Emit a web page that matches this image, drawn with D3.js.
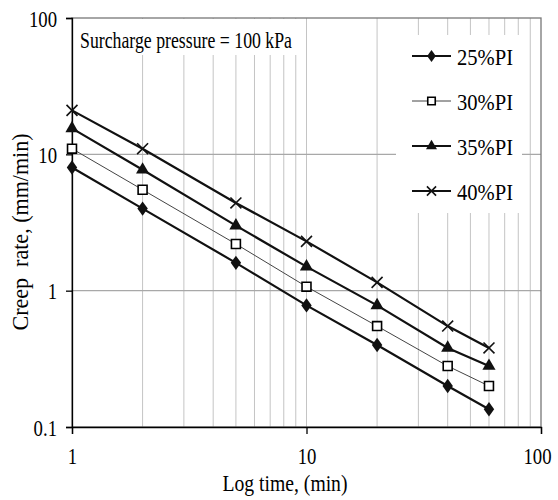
<!doctype html>
<meta charset="utf-8" />
<style>
    body { margin: 0; background: #fff; }
</style>
<svg></svg>

<script src="https://cdn.jsdelivr.net/npm/d3@7"></script>

<script>
    // data
    var times = [1, 2, 5, 10, 20, 40, 60];
    var pi25 = [8, 4, 1.6, 0.78, 0.4, 0.2, 0.135];
    var pi30 = [11, 5.5, 2.2, 1.07, 0.55, 0.28, 0.2];
    var pi35 = [15.5, 7.7, 3.0, 1.5, 0.78, 0.38, 0.28];
    var pi40 = [21, 11, 4.4, 2.3, 1.15, 0.55, 0.38];
    var seriesNames = ['25%PI', '30%PI', '35%PI', '40%PI'];
    var xTicks = [1, 10, 100];
    var yTicks = [0.1, 1, 10, 100];

    var SERIF = '"Liberation Serif", "Times New Roman", serif';
    var width = 558, height = 500;
    var pLeft = 72, pRight = 541, pTop = 18, pBottom = 427;

    var svg = d3.select('svg')
        .attr('width', width)
        .attr('height', height)

    // the reference text is tall and narrow, so squeeze it sideways
    function squeeze(sel, k) {
        sel.each(function () {
            var w = this.getComputedTextLength();
            d3.select(this).attr('textLength', w * k).attr('lengthAdjust', 'spacingAndGlyphs');
        });
    }
    function fitTo(sel, w) {
        sel.attr('textLength', w).attr('lengthAdjust', 'spacingAndGlyphs');
    }

    var x = d3.scaleLog().domain([1, 100]).range([pLeft, pRight]);
    var y = d3.scaleLog().domain([0.1, 100]).range([pBottom, pTop]);

    // vertical grid at every minor step
    var xGrid = [];
    [1, 10].forEach(function (d) {
        for (var k = 1; k <= 9; k++) xGrid.push(d * k);
    });
    svg.append('g').selectAll('line')
        .data(xGrid.filter(function (d) { return d > 1; }))
        .enter().append('line')
        .attr('x1', function (d) { return x(d); })
        .attr('x2', function (d) { return x(d); })
        .attr('y1', pTop).attr('y2', pBottom)
        .style('stroke', '#c4c4c4').style('stroke-width', 1);

    svg.append('g').selectAll('line')
        .data([1, 10])
        .enter().append('line')
        .attr('x1', pLeft).attr('x2', pRight)
        .attr('y1', function (d) { return y(d); })
        .attr('y2', function (d) { return y(d); })
        .style('stroke', '#a8a8a8').style('stroke-width', 1.3);

    // plot border
    svg.append('rect')
        .attr('x', pLeft).attr('y', pTop)
        .attr('width', pRight - pLeft).attr('height', pBottom - pTop)
        .style('fill', 'none').style('stroke', '#777').style('stroke-width', 1.3);

    // annotation box (covers grid)
    svg.append('rect')
        .attr('x', pLeft + 1).attr('y', pTop + 1)
        .attr('width', 228).attr('height', 36)
        .style('fill', '#fff');
    svg.append('text')
        .attr('x', 80).attr('y', 48)
        .style('font-family', SERIF)
        .style('font-size', '23px')
        .text('Surcharge pressure = 100 kPa')
        .call(fitTo, 212);

    // axes
    var xAxis = d3.axisBottom(x).tickValues(xTicks).tickFormat(d3.format('d')).tickSize(7).tickPadding(14);
    var gx = svg.append('g').attr('transform', 'translate(0,' + pBottom + ')').call(xAxis);
    var yAxis = d3.axisLeft(y).tickValues(yTicks).tickFormat(function (d) { return d < 1 ? '0.1' : d3.format('d')(d); }).tickSize(6).tickPadding(9);
    var gy = svg.append('g').attr('transform', 'translate(' + pLeft + ',0)').call(yAxis);
    [gx, gy].forEach(function (g) {
        g.select('.domain').style('stroke', '#000').style('stroke-width', 1.3);
        g.selectAll('.tick line').style('stroke', '#000').style('stroke-width', 1.3);
        g.selectAll('.tick text')
            .style('font-family', SERIF)
            .style('font-size', '24px').style('fill', '#000')
            .call(squeeze, 0.78);
    });
    gx.selectAll('.tick text').attr('dy', null).attr('y', 37)
        .attr('x', function (d) { return d === 100 ? -4 : 0; });
    gy.selectAll('.tick text').attr('dy', '0.34em');

    svg.append('text')
        .attr('x', 285).attr('y', 491)
        .attr('text-anchor', 'middle')
        .style('font-family', SERIF)
        .style('font-size', '24px')
        .text('Log time, (min)')
        .call(fitTo, 125);
    svg.append('text')
        .attr('transform', 'translate(28,232) rotate(-90)')
        .attr('text-anchor', 'middle')
        .style('font-family', SERIF)
        .style('font-size', '24px')
        .style('white-space', 'pre')
        .text('Creep  rate, (mm/min)')
        .call(fitTo, 197);

    // series
    var allSeries = [pi25, pi30, pi35, pi40];
    var lineW = [2.2, 1, 2.2, 2.2];
    var lineC = ['#111', '#444', '#111', '#111'];
    var symbols = [d3.symbolDiamond, d3.symbolSquare, d3.symbolTriangle, d3.symbolX];
    var symSize = [60, 80, 75, 80];

    var line = d3.line()
        .x(function (d) { return x(d[0]); })
        .y(function (d) { return y(d[1]); });

    function marker(g, i, px, py, sc) {
        var s = g.append('path')
            .attr('d', d3.symbol().type(symbols[i]).size(symSize[i] * (sc || 1))())
            .attr('transform', 'translate(' + px + ',' + py + ')' + (i === 0 ? ' scale(1.25,1)' : ''));
        if (i === 1) s.style('fill', '#fff').style('stroke', '#000').style('stroke-width', 1.6);
        else if (i === 3) s.style('fill', 'none').style('stroke', '#111').style('stroke-width', 1.6);
        else s.style('fill', '#111');
    }

    allSeries.forEach(function (vals, i) {
        var pts = times.map(function (t, j) { return [t, vals[j]]; });
        var g = svg.append('g');
        g.append('path')
            .attr('d', line(pts))
            .style('fill', 'none')
            .style('stroke', lineC[i])
            .style('stroke-width', lineW[i]);
        pts.forEach(function (p) { marker(g, i, x(p[0]), y(p[1])); });
    });

    // legend (covers grid)
    svg.append('rect')
        .attr('x', 396).attr('y', 35)
        .attr('width', 126).attr('height', 178)
        .style('fill', '#fff');
    seriesNames.forEach(function (name, i) {
        var ly = 56 + i * 45;
        var g = svg.append('g');
        g.append('line')
            .attr('x1', 412).attr('x2', 451)
            .attr('y1', ly).attr('y2', ly)
            .style('stroke', lineC[i]).style('stroke-width', lineW[i]);
        marker(g, i, 431.5, ly, 0.7);
        g.append('text')
            .attr('x', 457).attr('y', ly + 9)
            .style('font-family', SERIF)
            .style('font-size', '24px')
            .text(name)
            .call(fitTo, 56);
    });
</script>
